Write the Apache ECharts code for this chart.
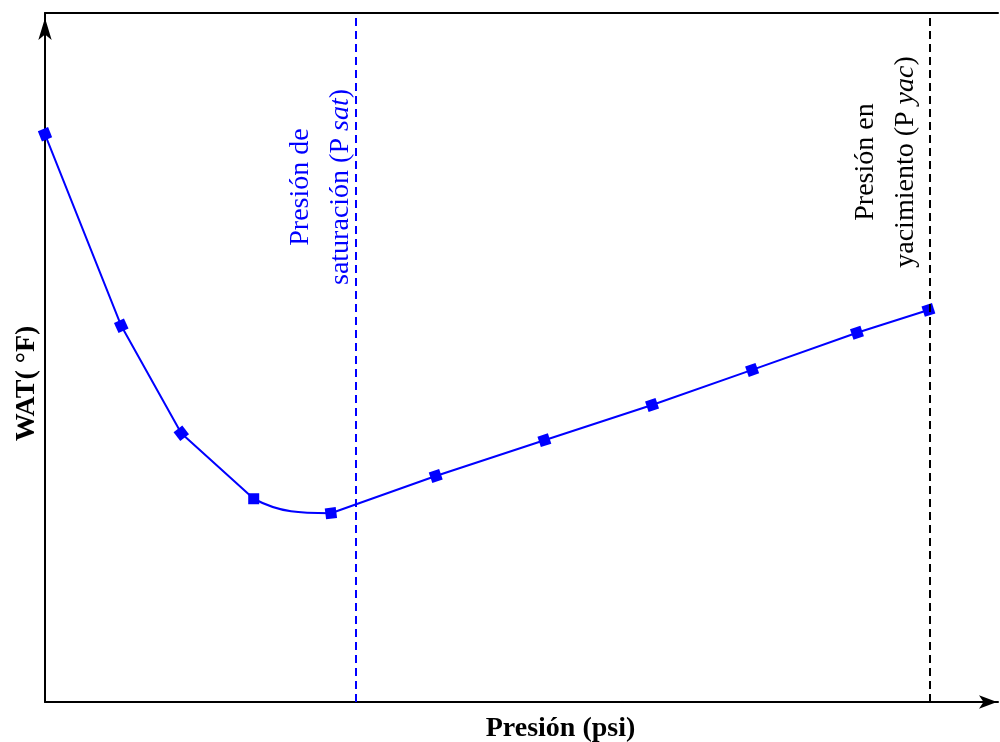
<!DOCTYPE html>
<html>
<head>
<meta charset="utf-8">
<script src="https://cdn.jsdelivr.net/npm/echarts@6/dist/echarts.min.js"></script>
<style>
  html, body { margin: 0; padding: 0; background: #fff; }
  #main { width: 1000px; height: 742px; }
</style>
</head>
<body>
<div id="main"></div>
<script>
// presión (psi) y WAT (°F), sin escala numérica visible
var presion = [0, 800, 1430, 2190, 3000, 4100, 5240, 6370, 7420, 8520, 9270];
var wat = [82.4, 54.6, 39.0, 29.5, 27.4, 32.8, 38.0, 43.1, 48.2, 53.6, 56.9];
var pSat = 3260;
var pYac = 9280;

var puntos = presion.map(function (p, i) { return [p, wat[i]]; });
var azul = '#0000ff';
var transparente = 'rgba(0,0,0,0)';
var serif = 'Liberation Serif';

var chart = echarts.init(document.getElementById('main'));

var option = {
  backgroundColor: '#ffffff',
  animation: false,
  grid: { left: 45, right: 2, top: 13, bottom: 40, outerBoundsMode: 'none', containLabel: false },
  // tramo recto: se oculta entre el 4º y 5º punto, donde la curva es suave
  visualMap: [{
    show: false,
    type: 'piecewise',
    seriesIndex: 0,
    dimension: 0,
    pieces: [
      { lte: presion[3], color: azul },
      { gt: presion[3], lt: presion[4], color: transparente },
      { gte: presion[4], color: azul }
    ]
  }, {
    show: false,
    type: 'piecewise',
    seriesIndex: 1,
    dimension: 0,
    pieces: [
      { gte: presion[3], lte: presion[4], color: azul }
    ],
    outOfRange: { color: transparente }
  }],
  xAxis: [{
    type: 'value',
    min: 0,
    max: 10000,
    name: 'Presión (psi)',
    nameLocation: 'middle',
    nameGap: 13,
    nameTextStyle: { fontFamily: serif, fontWeight: 'bold', fontSize: 28, color: '#000', padding: [0, 0, 0, 78] },
    axisLine: { show: true, symbol: ['none', 'arrow'], symbolSize: [10, 18], symbolOffset: [0, -1], lineStyle: { color: '#000', width: 2 } },
    axisTick: { show: false },
    axisLabel: { show: false },
    splitLine: { show: false }
  }, {
    type: 'value',
    position: 'top',
    min: 0,
    max: 10000,
    axisLine: { show: true, lineStyle: { color: '#000', width: 2 } },
    axisTick: { show: false },
    axisLabel: { show: false },
    splitLine: { show: false }
  }],
  yAxis: {
    type: 'value',
    min: 0,
    max: 100,
    name: 'WAT( °F)',
    nameLocation: 'middle',
    nameGap: 4,
    nameRotate: 90,
    nameTextStyle: { fontFamily: serif, fontWeight: 'bold', fontSize: 28, color: '#000', padding: [0, 52, 0, 0] },
    axisLine: { show: true, symbol: ['none', 'arrow'], symbolSize: [10, 22], symbolOffset: [0, -5], lineStyle: { color: '#000', width: 2 } },
    axisTick: { show: false },
    axisLabel: { show: false },
    splitLine: { show: false }
  },
  series: [{
    type: 'line',
    data: puntos,
    showSymbol: false,
    lineStyle: { width: 2 },
    markLine: {
      silent: true,
      symbol: 'none',
      label: { show: false },
      data: [
        { xAxis: pSat, lineStyle: { color: azul, type: [8, 5], width: 2 } },
        { xAxis: pYac, lineStyle: { color: '#000000', type: [8, 5], width: 2 } }
      ]
    }
  }, {
    type: 'line',
    data: puntos.slice(2, 6),
    smooth: 0.4,
    showSymbol: false,
    lineStyle: { width: 2 }
  }, {
    type: 'scatter',
    data: puntos,
    symbol: 'rect',
    symbolSize: 11,
    itemStyle: { color: azul, opacity: 1 }
  }],
  graphic: [{
    type: 'text',
    x: 321,
    y: 187,
    rotation: Math.PI / 2,
    style: {
      text: 'Presión de\nsaturación (P {i|sat})',
      fill: azul,
      fontFamily: serif,
      fontSize: 28,
      lineHeight: 40,
      align: 'center',
      verticalAlign: 'middle',
      rich: { i: { fontStyle: 'italic', fontFamily: serif, fontSize: 28, fill: azul } }
    }
  }, {
    type: 'text',
    x: 886,
    y: 162,
    rotation: Math.PI / 2,
    style: {
      text: 'Presión en\nyacimiento (P {i|yac})',
      fill: '#000000',
      fontFamily: serif,
      fontSize: 28,
      lineHeight: 40,
      align: 'center',
      verticalAlign: 'middle',
      rich: { i: { fontStyle: 'italic', fontFamily: serif, fontSize: 28, fill: '#000' } }
    }
  }]
};

chart.setOption(option);

// orientar cada marcador según la dirección de la curva
var px = puntos.map(function (pt) { return chart.convertToPixel({ seriesIndex: 2 }, pt); });
var rot = px.map(function (pt, i) {
  var a = px[Math.max(i - 1, 0)], b = px[Math.min(i + 1, px.length - 1)];
  return -Math.atan2(b[1] - a[1], b[0] - a[0]) * 180 / Math.PI;
});
rot[3] = 0;
chart.setOption({
  series: [{}, {}, { symbolRotate: function (v, params) { return rot[params.dataIndex]; } }]
});
</script>
</body>
</html>
